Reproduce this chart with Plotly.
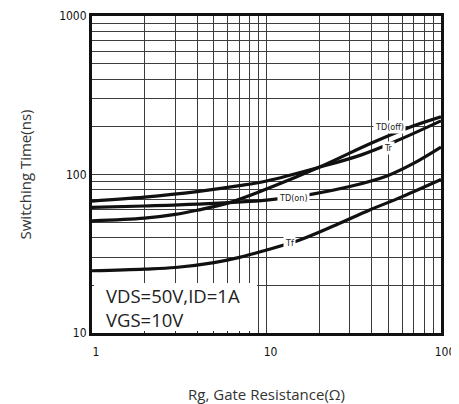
import numpy as np
import plotly.graph_objects as go

# Data (Rg in ohm, time in ns)
rg_tdoff = [1, 2, 3, 4, 6, 10, 20, 40, 64, 100]
t_tdoff = [51, 53, 56, 59.5, 66, 81, 111, 158, 196, 231]

rg_tr = [1, 2, 4, 7, 10, 20, 35, 55, 100]
t_tr = [68, 72, 78, 85, 91, 111, 133, 162, 218]

rg_tdon = [1, 2, 4, 10, 18, 30, 49, 70, 100]
t_tdon = [62, 63.3, 65, 69, 75, 84, 98, 118, 149]

rg_tf = [1, 2, 3, 5, 7, 10, 15.5, 25, 39, 60, 100]
t_tf = [24.7, 25.3, 25.9, 27.8, 30, 33.4, 38.6, 48, 59.7, 72.5, 93]

curve_labels = ["TD(off)", "Tr", "TD(on)", "Tf"]
label_rg = [51, 49.7, 14.2, 13.6]
label_t = [199.5, 147, 71, 37]

x_ticks = [1, 10, 100]
y_ticks = [10, 100, 1000]

fig = go.Figure()
for xs, ys in [(rg_tdoff, t_tdoff), (rg_tr, t_tr), (rg_tdon, t_tdon), (rg_tf, t_tf)]:
    fig.add_trace(go.Scatter(x=xs, y=ys, mode="lines",
                             line=dict(color="#111111", width=3.2, shape="spline", smoothing=1.0),
                             showlegend=False, hoverinfo="skip"))

def grid_vals(lo, hi):
    vals = []
    for d in range(lo, hi):
        for m in range(1, 10):
            vals.append(m * 10 ** d)
    vals.append(10 ** hi)
    return vals

xv = grid_vals(0, 2)
yv = grid_vals(1, 3)
xt = [str(v) if v in x_ticks else "" for v in xv]
yt = [str(v) if v in y_ticks else "" for v in yv]

tick_font = dict(family="Liberation Sans Narrow, DejaVu Sans Condensed, Liberation Sans", size=12, color="#111111")

fig.update_xaxes(type="log", range=[0, 2], tickmode="array", tickvals=xv, ticktext=xt,
                 showgrid=True, gridcolor="#3c3c3c", gridwidth=1, automargin=False,
                 showline=True, linecolor="#111111", linewidth=3, mirror=True,
                 ticks="inside", ticklen=4, tickcolor="#333333", ticklabelshift=4,
                 ticklabelstandoff=6,
                 tickfont=tick_font, zeroline=False,
                 title=dict(text="Rg, Gate Resistance(Ω)", standoff=34,
                            font=dict(family="Open Sans", size=15, color="#333333")))
fig.update_yaxes(type="log", range=[1, 3], tickmode="array", tickvals=yv, ticktext=yt,
                 showgrid=True, gridcolor="#3c3c3c", gridwidth=1, automargin=False,
                 showline=True, linecolor="#111111", linewidth=3, mirror=True,
                 ticks="", tickfont=tick_font, zeroline=False,
                 title=dict(text="Switching Time(ns)", standoff=24,
                            font=dict(family="Open Sans", size=15, color="#333333")))

for txt, xr, yr in zip(curve_labels, label_rg, label_t):
    fig.add_annotation(x=np.log10(xr), y=np.log10(yr), xref="x", yref="y", text=txt,
                       showarrow=False, bgcolor="white", borderpad=1,
                       font=dict(family="Liberation Sans Narrow, DejaVu Sans Condensed", size=9, color="#222222"))

# white box behind the condition text
fig.add_shape(type="rect", xref="paper", yref="paper", x0=0.006, x1=0.473, y0=0.006, y1=0.158,
              fillcolor="white", line=dict(width=0), layer="above")
fig.add_annotation(x=0.035, y=0.082, xref="paper", yref="paper", xanchor="left", yanchor="middle",
                   text="VDS=50V,ID=1A<br>VGS=10V", showarrow=False, align="left",
                   font=dict(family="Open Sans", size=18.5, color="#222222"))

fig.update_layout(width=451, height=396, margin=dict(l=84, r=18, t=8, b=71, autoexpand=False),
                  paper_bgcolor="white", plot_bgcolor="white")

fig.write_html("out.html")
